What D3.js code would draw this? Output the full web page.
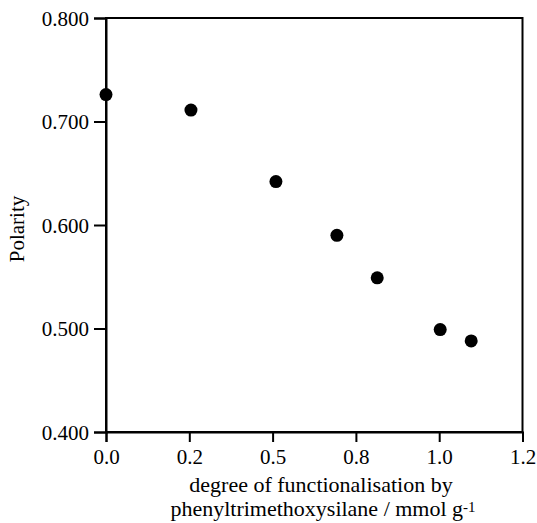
<!DOCTYPE html>
<html><head><meta charset="utf-8">
<script src="https://cdn.jsdelivr.net/npm/d3@7"></script>
</head><body style="margin:0;font-family:'Liberation Serif'">
<script>
const xValues = [0.0, 0.255, 0.51, 0.693, 0.814, 1.003, 1.096];
const polarity = [0.726, 0.711, 0.642, 0.590, 0.549, 0.499, 0.488];
const xTicks = [0, 0.25, 0.5, 0.75, 1.0, 1.25];
const xTickLabels = ["0.0", "0.2", "0.5", "0.8", "1.0", "1.2"];
const yTicks = [0.4, 0.5, 0.6, 0.7, 0.8];
const yTickLabels = ["0.400", "0.500", "0.600", "0.700", "0.800"];

const W = 537, H = 523;
const m = {left: 106, right: 14.5, top: 18, bottom: 91};
const svg = d3.select("body").append("svg").attr("width", W).attr("height", H)
  .style("font-family", '"Liberation Serif"');
const x = d3.scaleLinear().domain([0, 1.25]).range([m.left, W - m.right]);
const y = d3.scaleLinear().domain([0.4, 0.8]).range([H - m.bottom, m.top]);

function serif(sel, size) {
  sel.attr("font-family", "Liberation Serif").attr("font-size", size)
     .each(function () {
       this.style.setProperty("font-family", '"Liberation Serif"', "important");
       this.style.setProperty("font-size", size + "px", "important");
     });
}

svg.append("rect").attr("x", x(0)).attr("y", y(0.8))
  .attr("width", x(1.25) - x(0)).attr("height", y(0.4) - y(0.8))
  .attr("fill", "none").attr("stroke", "#000").attr("stroke-width", 2);

const fs = 21, tfs = 22;
const xAxis = svg.append("g").attr("transform", `translate(0,${y(0.4)})`)
  .call(d3.axisBottom(x).tickValues(xTicks).tickFormat((d, i) => xTickLabels[i]).tickSize(10).tickPadding(6));
const yAxis = svg.append("g").attr("transform", `translate(${x(0)},0)`)
  .call(d3.axisLeft(y).tickValues(yTicks).tickFormat((d, i) => yTickLabels[i]).tickSize(12).tickPadding(5));
[xAxis, yAxis].forEach(g => {
  g.attr("font-family", "Liberation Serif").attr("font-size", fs);
  g.select(".domain").attr("stroke", "#000").attr("stroke-width", 2);
  g.selectAll(".tick line").attr("stroke", "#000").attr("stroke-width", 2);
  g.selectAll("text").attr("fill", "#000").call(serif, fs);
});
xAxis.selectAll("text").attr("dy", "0.75em");
yAxis.selectAll("text").attr("dy", "0.35em");

svg.selectAll("circle.pt").data(xValues).enter().append("circle")
  .attr("class", "pt")
  .attr("cx", d => x(d)).attr("cy", (d, i) => y(polarity[i])).attr("r", 6.5).attr("fill", "#000");

svg.append("text").attr("x", 321).attr("y", 492).attr("text-anchor", "middle")
  .call(serif, tfs)
  .text("degree of functionalisation by");
const t2 = svg.append("text").attr("x", 323).attr("y", 516).attr("text-anchor", "middle")
  .call(serif, tfs);
t2.append("tspan").text("phenyltrimethoxysilane / mmol g");
t2.append("tspan").attr("dy", -4).call(serif, 15).text("-1");

svg.append("text").attr("transform", `translate(24,${(y(0.4)+y(0.8))/2 + 4}) rotate(-90)`)
  .attr("text-anchor", "middle").call(serif, fs).text("Polarity");
</script>
</body></html>
